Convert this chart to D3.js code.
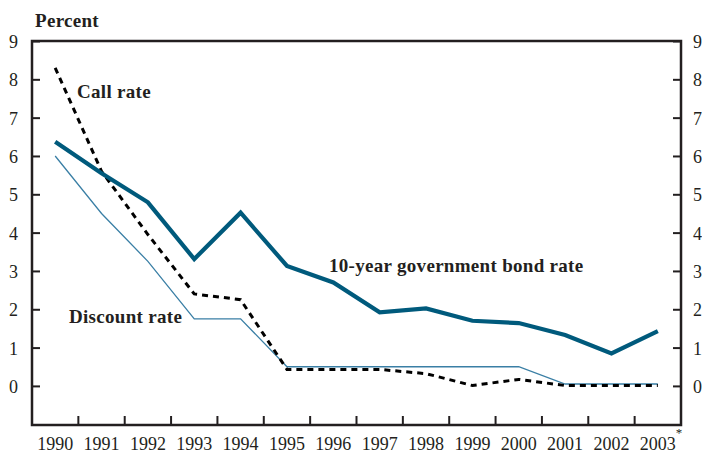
<!DOCTYPE html>
<html>
<head>
<meta charset="utf-8">
<script src="https://cdn.jsdelivr.net/npm/d3@7"></script>
<style>
  body { margin: 0; background: #fff; }
  text { font-family: "Liberation Serif", "DejaVu Serif", serif; fill: #231f20; }
</style>
</head>
<body>
<div id="chart"></div>
<script>
// data
var years = ['1990','1991','1992','1993','1994','1995','1996','1997','1998','1999','2000','2001','2002','2003'];
var bondRate     = [6.37, 5.55, 4.79, 3.31, 4.52, 3.13, 2.70, 1.92, 2.02, 1.70, 1.64, 1.33, 0.85, 1.43];
var discountRate = [6.0, 4.5, 3.25, 1.75, 1.75, 0.5, 0.5, 0.5, 0.5, 0.5, 0.5, 0.05, 0.05, 0.05];
var callRate     = [8.3, 5.6, 3.95, 2.4, 2.25, 0.43, 0.43, 0.43, 0.32, 0.01, 0.17, 0.01, 0.01, 0.01];
var yTicks = [0,1,2,3,4,5,6,7,8,9];

(function(){
var w = 702, h = 455;
var pLeft = 32, pRight = 681, pTop = 41, pBottom = 425;
var ink = '#231f20';

var svg = d3.select('#chart').append('svg').attr('width', w).attr('height', h);

var x = d3.scaleBand().domain(years).range([pLeft, pRight]).padding(0);
var y = d3.scaleLinear().domain([-1.02, 9]).range([pBottom, pTop]);
var cx = function(d, i){ return x(years[i]) + x.bandwidth()/2; };

// left axis
var gl = svg.append('g').attr('transform', 'translate(' + pLeft + ',0)')
    .call(d3.axisLeft(y).tickValues(yTicks).tickSize(-8).tickPadding(14).tickFormat(d3.format('d')));
// right axis
var gr = svg.append('g').attr('transform', 'translate(' + pRight + ',0)')
    .call(d3.axisRight(y).tickValues(yTicks).tickSize(-8).tickPadding(12).tickFormat(d3.format('d')));
[gl, gr].forEach(function(g){
    g.select('.domain').remove();
    g.selectAll('line').attr('stroke', ink).attr('stroke-width', 2);
    g.selectAll('text').style('font-size', '18px').attr('fill', ink).attr('dy', '0.36em')
        .style('font-family', '"Liberation Serif", serif');
});

// bottom axis labels at band centres
var gb = svg.append('g').attr('transform', 'translate(0,' + pBottom + ')')
    .call(d3.axisBottom(x).tickSize(0).tickPadding(12));
gb.select('.domain').remove();
gb.selectAll('text').style('font-size', '18px').attr('fill', ink).style('font-family', '"Liberation Serif", serif');
// tick marks between years
svg.append('g').selectAll('line').data(years.slice(1)).enter().append('line')
    .attr('x1', function(d){ return x(d); }).attr('x2', function(d){ return x(d); })
    .attr('y1', pBottom).attr('y2', pBottom - 9)
    .attr('stroke', ink).attr('stroke-width', 2);

svg.append('text').attr('x', x('2003') + x.bandwidth()/2 + 18).attr('y', 437)
    .style('font-size', '13px').text('*');

// frame
svg.append('rect').attr('x', pLeft).attr('y', pTop).attr('width', pRight - pLeft).attr('height', pBottom - pTop)
    .attr('fill', 'none').attr('stroke', ink).attr('stroke-width', 2.5);

var line = d3.line().x(cx).y(function(d){ return y(d); });

svg.append('path').datum(discountRate).attr('d', line)
    .attr('fill', 'none').attr('stroke', '#3a7fa5').attr('stroke-width', 1.3);
svg.append('path').datum(callRate).attr('d', line)
    .attr('fill', 'none').attr('stroke', '#000').attr('stroke-width', 3).attr('stroke-dasharray', '6,5');
svg.append('path').datum(bondRate).attr('d', line)
    .attr('fill', 'none').attr('stroke', '#005a7c').attr('stroke-width', 4.2).attr('stroke-linejoin', 'miter');

// labels
function label(tx, ty, s){
    svg.append('text').attr('x', tx).attr('y', ty).style('font-size', '19px')
        .style('font-weight', 'bold').style('letter-spacing', '0.3px').text(s);
}
label(35, 27, 'Percent');
label(77, 98, 'Call rate');
label(69, 323, 'Discount rate');
label(329, 272, '10-year government bond rate');
})();
</script>
</body>
</html>
